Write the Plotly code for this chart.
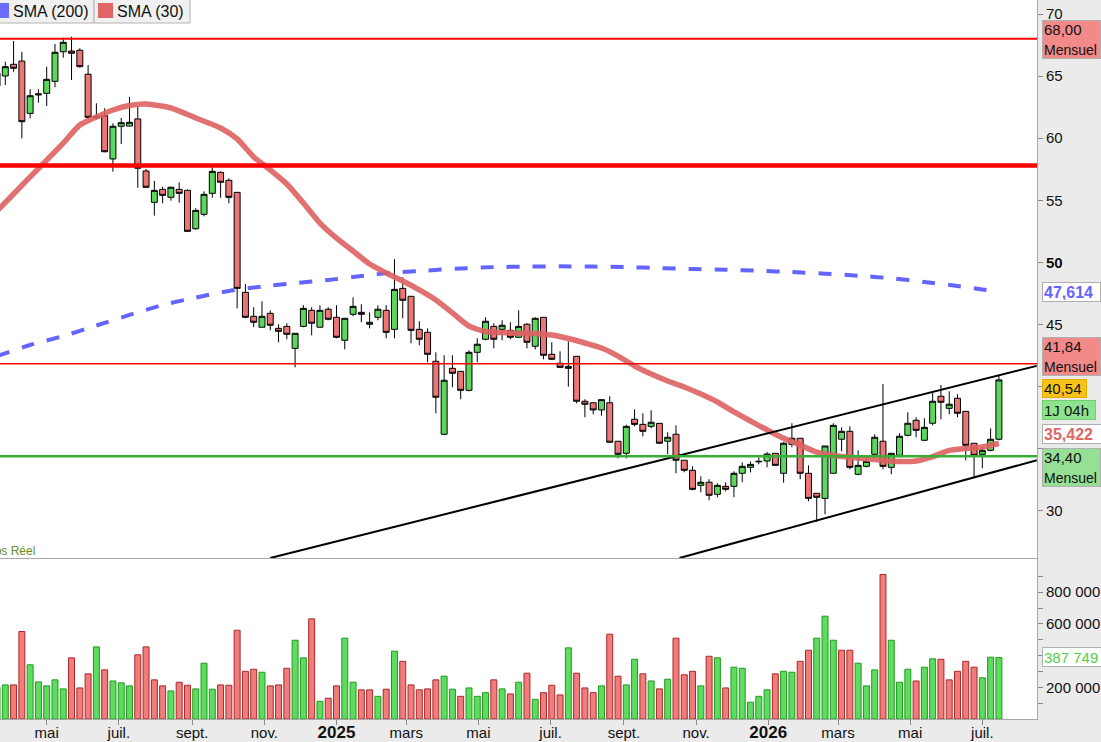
import plotly.graph_objects as go
import pandas as pd

# ---------------- DATA ----------------
first_week = "2024-03-20"
n_weeks = 122
dates = pd.date_range(first_week, periods=n_weeks, freq="7D")

opens = [64.20, 65.01, 65.95, 66.21, 62.00, 63.48, 63.61, 64.58, 66.96, 67.02,
         67.08, 65.15, 61.63, 61.81, 58.33, 60.96, 60.98, 61.55, 57.36, 54.84,
         55.88, 55.24, 55.88, 55.80, 52.71, 53.87, 55.56, 57.25, 56.61, 55.64,
         47.59, 45.66, 44.78, 45.90, 44.69, 44.85, 43.08, 44.85, 46.14, 44.78,
         46.23, 45.58, 43.73, 45.82, 45.98, 45.02, 45.58, 46.14, 44.61, 47.91,
         47.27, 44.61, 44.37, 42.04, 36.16, 41.47, 41.23, 39.70, 42.76, 43.81,
         44.85, 44.61, 44.53, 43.97, 45.02, 43.25, 45.58, 42.60, 41.88, 41.47,
         42.44, 38.82, 38.70, 38.12, 38.70, 35.60, 34.63, 37.37, 36.96, 36.80,
         37.04, 35.60, 36.16, 34.07, 33.26, 32.05, 32.30, 31.33, 31.97, 31.97,
         33.02, 33.50, 33.94, 34.01, 34.63, 33.02, 35.35, 35.84, 33.02, 31.41,
         31.00, 33.02, 35.76, 36.40, 32.94, 33.58, 34.55, 35.60, 33.50, 34.47,
         36.08, 37.29, 35.68, 37.05, 39.22, 38.25, 39.06, 38.01, 35.44, 34.55,
         34.87, 35.76]
highs = [65.65, 66.16, 67.83, 66.96, 63.94, 63.94, 65.76, 67.58, 68.09, 68.17,
         67.24, 65.89, 62.81, 62.41, 61.20, 61.63, 63.34, 62.59, 57.52, 56.55,
         56.09, 56.09, 56.45, 55.88, 54.36, 55.72, 57.66, 57.33, 56.77, 55.64,
         48.26, 46.39, 46.87, 46.14, 45.02, 45.10, 44.29, 46.55, 46.39, 46.55,
         46.39, 46.55, 45.50, 47.19, 46.63, 45.98, 46.55, 46.55, 50.25, 48.80,
         47.27, 45.26, 44.69, 42.76, 42.52, 42.52, 41.23, 42.92, 43.89, 45.58,
         45.10, 45.34, 45.18, 46.14, 45.10, 45.58, 45.58, 43.57, 42.84, 43.65,
         42.44, 38.98, 38.70, 38.95, 39.22, 35.60, 36.93, 38.17, 37.85, 38.09,
         37.04, 36.32, 36.88, 34.07, 33.58, 32.78, 32.54, 32.21, 32.30, 33.18,
         33.90, 33.98, 34.31, 34.73, 34.65, 35.54, 37.05, 35.84, 33.66, 31.41,
         35.22, 37.05, 36.72, 36.80, 34.87, 34.31, 36.16, 40.21, 34.63, 36.24,
         37.93, 37.53, 37.45, 39.48, 40.13, 39.62, 39.38, 38.01, 35.44, 35.11,
         36.64, 40.93]
lows = [63.88, 64.28, 65.35, 59.99, 61.60, 62.86, 62.59, 64.10, 66.48, 64.69,
        65.68, 61.60, 61.59, 58.87, 57.30, 59.53, 60.96, 56.01, 55.99, 53.76,
        54.76, 54.97, 54.81, 52.49, 52.63, 53.71, 55.21, 55.21, 54.76, 46.30,
        45.50, 44.78, 44.78, 44.53, 43.57, 43.81, 41.55, 44.78, 44.13, 44.78,
        45.34, 43.89, 43.00, 45.66, 45.18, 44.69, 45.34, 43.89, 43.89, 45.50,
        43.49, 43.33, 41.96, 37.85, 36.08, 39.94, 38.98, 39.62, 41.96, 43.73,
        43.08, 43.73, 43.81, 43.97, 43.08, 43.00, 42.20, 42.14, 41.55, 39.99,
        38.65, 37.53, 37.77, 37.66, 35.52, 34.23, 34.23, 36.80, 36.00, 36.64,
        35.38, 34.55, 33.02, 33.10, 31.65, 31.49, 30.85, 31.09, 31.57, 31.09,
        32.30, 33.10, 33.74, 33.50, 33.66, 32.26, 35.11, 32.54, 30.76, 29.12,
        29.72, 33.02, 34.79, 33.34, 32.86, 33.50, 34.47, 33.34, 32.94, 34.31,
        36.00, 35.92, 35.60, 36.88, 37.37, 37.77, 37.53, 34.07, 32.70, 33.42,
        34.79, 35.68]
closes = [65.25, 65.76, 65.63, 61.33, 63.42, 63.56, 64.74, 66.92, 67.72, 66.84,
          65.76, 61.68, 61.75, 58.91, 60.96, 61.25, 61.28, 57.58, 56.05, 55.80,
          55.40, 56.05, 55.56, 52.50, 54.19, 55.48, 57.33, 56.45, 55.24, 47.91,
          45.58, 45.18, 45.66, 44.94, 44.45, 44.21, 44.29, 46.30, 45.10, 46.14,
          45.42, 43.97, 45.50, 46.46, 45.82, 45.18, 46.23, 44.37, 47.83, 46.95,
          44.53, 43.81, 42.60, 39.14, 40.51, 41.07, 39.70, 42.76, 43.41, 45.26,
          43.81, 44.94, 43.97, 44.85, 43.57, 45.50, 42.52, 42.20, 41.55, 41.63,
          38.82, 38.58, 38.12, 38.95, 35.52, 34.55, 36.80, 36.96, 36.40, 37.13,
          35.44, 35.92, 34.07, 33.26, 31.73, 32.30, 31.25, 32.05, 31.73, 33.02,
          33.58, 33.74, 33.98, 34.57, 33.66, 35.44, 35.84, 33.02, 31.00, 31.09,
          35.22, 36.88, 36.40, 33.50, 33.66, 33.98, 35.92, 33.58, 34.63, 36.00,
          37.05, 36.48, 36.72, 38.82, 38.74, 38.58, 37.85, 35.27, 34.47, 34.87,
          35.76, 40.54]
volumes = [200000, 215000, 215000, 552000, 342000, 234000, 209000, 247000, 190000, 386000,
           196000, 285000, 455000, 310000, 240000, 228000, 209000, 405000, 455000, 247000,
           209000, 177000, 232000, 213000, 190000, 352000, 188000, 215000, 213000, 560000,
           301000, 314000, 295000, 209000, 215000, 320000, 497000, 386000, 632000, 112000,
           131000, 209000, 510000, 232000, 184000, 184000, 143000, 188000, 428000, 364000,
           215000, 184000, 190000, 247000, 270000, 188000, 143000, 196000, 143000, 166000,
           247000, 190000, 158000, 232000, 289000, 124000, 166000, 213000, 152000, 449000,
           289000, 196000, 166000, 209000, 535000, 270000, 215000, 377000, 285000, 240000,
           190000, 251000, 510000, 279000, 301000, 209000, 396000, 386000, 196000, 327000,
           320000, 106000, 143000, 184000, 285000, 301000, 295000, 364000, 434000, 510000,
           649000, 497000, 434000, 434000, 352000, 209000, 310000, 912000, 497000, 232000,
           314000, 240000, 327000, 380000, 377000, 247000, 301000, 364000, 327000, 260000,
           390000, 387749]

# moving averages (bar number, value)
sma30_bar = [1, 3, 5, 7, 9, 11, 13, 15, 17, 19, 22, 25, 28, 30, 32, 34, 36, 38, 40, 42,
             44, 46, 48, 50, 52, 54, 56, 58, 60, 63, 66, 68, 70, 72, 74, 76, 78, 80, 82, 84,
             86, 88, 90, 92, 94, 96, 98, 100, 102, 104, 107, 110, 112, 114, 116, 118, 120, 122]
sma30_val = [54.14, 55.51, 56.88, 58.24, 59.61, 61.06, 61.71, 62.27, 62.63, 62.75, 62.43, 61.63,
             60.82, 59.94, 58.49, 57.44, 56.31, 54.78, 53.17, 51.96, 50.92, 49.87, 49.15, 48.50,
             47.78, 46.97, 45.93, 44.88, 44.44, 44.32, 44.28, 44.15, 43.87, 43.51, 43.11, 42.46,
             41.66, 41.01, 40.45, 39.97, 39.40, 38.76, 37.96, 37.23, 36.51, 35.84, 35.30, 34.73,
             34.45, 34.31, 34.13, 33.97, 34.01, 34.37, 34.86, 35.02, 35.14, 35.422]
sma200_bar = [1, 5, 9, 13, 17, 21, 25, 29, 33, 37, 41, 45, 49, 53, 57, 61, 65, 69, 73, 77,
              81, 85, 89, 93, 97, 101, 105, 109, 113, 117, 120, 122]
sma200_val = [42.46, 43.35, 44.07, 44.92, 45.77, 46.57, 47.17, 47.70, 48.06, 48.34, 48.58,
              48.91, 49.19, 49.35, 49.51, 49.62, 49.66, 49.68, 49.66, 49.62, 49.54, 49.46,
              49.41, 49.33, 49.22, 49.09, 48.93, 48.72, 48.42, 48.10, 47.82, 47.614]

# horizontal levels
level_68 = 68.00
level_thick = 57.80
level_4184 = 41.84
level_3440 = 34.40

# channel lines (date, price)
upper_dates = ["2024-11-06", "2026-08-16"]
upper_prices = [26.20, 41.67]
lower_dates = ["2025-10-18", "2026-08-16"]
lower_prices = [26.20, 34.07]

x_tick_dates = ["2024-05-01", "2024-07-01", "2024-09-01", "2024-11-01", "2025-01-01",
                "2025-03-01", "2025-05-01", "2025-07-01", "2025-09-01", "2025-11-01",
                "2026-01-01", "2026-03-01", "2026-05-01", "2026-07-01"]
x_tick_text = ["mai", "juil.", "sept.", "nov.", "2025", "mars", "mai", "juil.", "sept.",
               "nov.", "2026", "mars", "mai", "juil."]
y_tick_vals = [30, 35, 40, 45, 50, 55, 60, 65, 70]
y_tick_text = ["30", "", "", "45", "<b>50</b>", "55", "60", "65", "70"]
vol_tick_vals = [100000, 200000, 300000, 400000, 500000, 600000, 700000, 800000, 900000]
vol_tick_text = ["", "200 000", "", "400 000", "", "600 000", "", "800 000", ""]

# ---------------- FIGURE ----------------
W, H = 1101, 742
ML, MR, MT, MB = 0, 64, 0, 23
PW, PH = W - ML - MR, H - MT - MB
price_bottom_px = 558
pdom = (PH - price_bottom_px) / PH


def px(x):
    return x / PW


def py(y):
    return (PH - y) / PH


FONT = "Arial, Liberation Sans, sans-serif"

fig = go.Figure()

fig.add_trace(go.Candlestick(
    x=dates, open=opens, high=highs, low=lows, close=closes,
    increasing=dict(fillcolor="#5cd65c", line=dict(color="#000000", width=1)),
    decreasing=dict(fillcolor="#ec7676", line=dict(color="#000000", width=1)),
    whiskerwidth=0, xaxis="x", yaxis="y", hoverinfo="skip", showlegend=False))

fig.add_trace(go.Scatter(
    x=[dates[i - 1] for i in sma200_bar], y=sma200_val, mode="lines",
    line=dict(color="#6464ff", width=4, dash="13px,13px", shape="spline", smoothing=0.6),
    xaxis="x", yaxis="y", hoverinfo="skip"))

fig.add_trace(go.Scatter(
    x=[dates[i - 1] for i in sma30_bar], y=sma30_val, mode="lines",
    line=dict(color="rgba(222,96,96,0.9)", width=5.5, shape="spline", smoothing=0.6),
    xaxis="x", yaxis="y", hoverinfo="skip"))

for dts, prs in ((upper_dates, upper_prices), (lower_dates, lower_prices)):
    fig.add_trace(go.Scatter(x=dts, y=prs, mode="lines",
                             line=dict(color="#000000", width=2),
                             xaxis="x", yaxis="y", hoverinfo="skip", cliponaxis=True))

# volume colours: close versus previous close
vol_fill, vol_line = [], []
for i, c in enumerate(closes):
    up = True if i == 0 else c >= closes[i - 1]
    vol_fill.append("#5fdc5f" if up else "#f07c7c")
    vol_line.append("#1f9a1f" if up else "#a82828")

fig.add_trace(go.Bar(x=dates, y=volumes, marker=dict(color=vol_fill, line=dict(color=vol_line, width=1)),
                     xaxis="x2", yaxis="y2", hoverinfo="skip"))

x_range = ["2024-03-22 12:29", "2026-08-16 05:00"]

axis_line = "#a8a8a8"
tick_font = dict(family=FONT, size=15, color="#111111")

fig.update_layout(
    width=W, height=H, margin=dict(l=ML, r=MR, t=MT, b=MB, pad=0, autoexpand=False),
    paper_bgcolor="#ebebeb", plot_bgcolor="#ffffff", showlegend=False,
    bargap=0.28, boxgap=0.28, boxgroupgap=0, hovermode=False,
    font=dict(family=FONT, size=15, color="#111111"),
    xaxis=dict(domain=[0, 1], anchor="y", range=x_range, type="date", automargin=False,
               showticklabels=False, ticks="", showgrid=False, zeroline=False,
               rangeslider=dict(visible=False), showline=True, linecolor=axis_line, linewidth=1),
    yaxis=dict(domain=[pdom, 1], anchor="x", side="right", range=[26.2, 71.127], automargin=False,
               tickvals=y_tick_vals, ticktext=y_tick_text,
               ticks="outside", ticklen=5, tickcolor="#888888", tickfont=tick_font,
               showgrid=False, zeroline=False, showline=True, linecolor=axis_line, linewidth=1),
    xaxis2=dict(domain=[0, 1], anchor="y2", range=x_range, type="date", automargin=False,
                tickvals=x_tick_dates,
                ticktext=[('<span style="font-size:17px"><b>%s</b></span>' % t) if t.isdigit() else t
                          for t in x_tick_text],
                ticks="outside", ticklen=5, tickcolor="#888888", tickfont=tick_font,
                ticklabelstandoff=-5,
                showgrid=False, zeroline=False, rangeslider=dict(visible=False),
                showline=True, linecolor=axis_line, linewidth=1),
    yaxis2=dict(domain=[0, pdom], anchor="x2", side="right", range=[0, 1016000], automargin=False,
                tickvals=vol_tick_vals, ticktext=vol_tick_text,
                ticks="outside", ticklen=5, tickcolor="#888888", tickfont=tick_font,
                showgrid=False, zeroline=False, showline=True, linecolor=axis_line, linewidth=1),
)

shapes = [
    dict(type="line", xref="paper", x0=0, x1=1, yref="y", y0=level_68, y1=level_68,
         line=dict(color="#ff0000", width=2)),
    dict(type="line", xref="paper", x0=0, x1=1, yref="y", y0=level_thick, y1=level_thick,
         line=dict(color="#ff0000", width=4.5)),
    dict(type="line", xref="paper", x0=0, x1=1, yref="y", y0=level_4184, y1=level_4184,
         line=dict(color="#ff0000", width=1.3)),
    dict(type="line", xref="paper", x0=0, x1=1, yref="y", y0=level_3440, y1=level_3440,
         line=dict(color="#38b038", width=2.5)),
    # legend boxes
    dict(type="rect", xref="paper", yref="paper", x0=px(-10), x1=px(94), y0=py(23), y1=py(-1),
         fillcolor="#f0f0f0", line=dict(color="#b4b4b4", width=1), layer="above"),
    dict(type="rect", xref="paper", yref="paper", x0=px(94), x1=px(190), y0=py(23), y1=py(-1),
         fillcolor="#f0f0f0", line=dict(color="#b4b4b4", width=1), layer="above"),
    dict(type="rect", xref="paper", yref="paper", x0=px(-6), x1=px(9), y0=py(18), y1=py(3),
         fillcolor="#6b6bff", line=dict(width=0), layer="above"),
    dict(type="rect", xref="paper", yref="paper", x0=px(98), x1=px(113), y0=py(18), y1=py(3),
         fillcolor="#e06666", line=dict(width=0), layer="above"),
]
fig.update_layout(shapes=shapes)

ann = []
ann.append(dict(text="SMA (200)", xref="paper", yref="paper", x=px(11), y=py(11.5),
                xanchor="left", yanchor="middle", showarrow=False,
                font=dict(family=FONT, size=16, color="#111111")))
ann.append(dict(text="SMA (30)", xref="paper", yref="paper", x=px(115), y=py(11.5),
                xanchor="left", yanchor="middle", showarrow=False,
                font=dict(family=FONT, size=16, color="#111111")))
ann.append(dict(text="Temps Réel", xref="paper", yref="paper", x=px(37), y=py(551),
                xanchor="right", yanchor="middle", showarrow=False,
                font=dict(family=FONT, size=12, color="#6b8e23")))


def label(text, y_center, width, height, bg, fg, border="#b0b0b0", bold=False, size=15):
    t = "<b>%s</b>" % text if bold else text
    return dict(text=t, xref="paper", yref="paper", x=px(1042), y=py(y_center),
                xanchor="left", yanchor="middle", showarrow=False, align="left",
                width=width, height=height, bgcolor=bg, bordercolor=border, borderwidth=1,
                borderpad=1, font=dict(family=FONT, size=size, color=fg))


MENS = '<span style="font-size:14px">Mensuel</span>'
ann.append(label("68,00<br>" + MENS, 39.5, 55, 35, "#f28a8a", "#111111"))
ann.append(label("47,614", 292, 55, 16, "#ffffff", "#6464ff", bold=True, size=16))
ann.append(label("41,84<br>" + MENS, 356.5, 55, 35, "#f28a8a", "#111111"))
ann.append(label("40,54", 388, 41, 15, "#f7c21a", "#111111", border="#e0b000"))
ann.append(label("1J 04h", 410, 50, 16, "#8fe38f", "#111111", border="#70d070"))
ann.append(label("35,422", 434, 62, 16, "#ffffff", "#e06666", bold=True, size=16))
ann.append(label("34,40<br>" + MENS, 467.5, 55, 35, "#96e096", "#111111"))
ann.append(label("387 749", 657, 62, 16, "#ffffff", "#4fd04f"))
fig.update_layout(annotations=ann)

fig.write_html("out.html")
